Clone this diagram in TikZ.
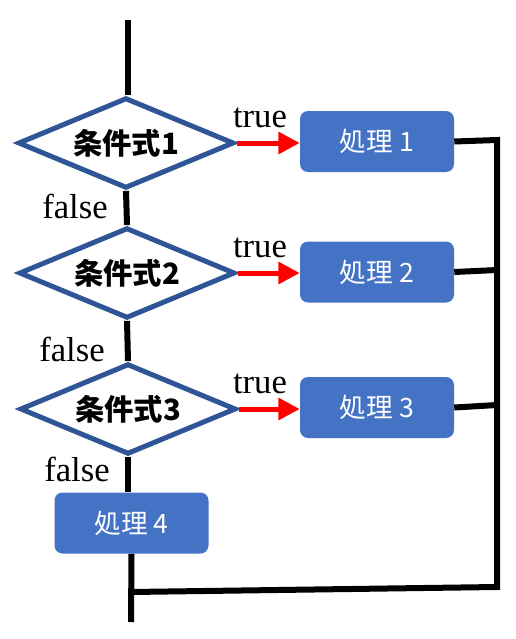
\documentclass[tikz,border=0pt]{standalone}
\usepackage{fontspec}
\setmainfont{Liberation Serif}
\newfontfamily\cjk{Noto Sans CJK JP}
\usetikzlibrary{shapes.geometric,arrows.meta}
\definecolor{dborder}{HTML}{2F5597}
\definecolor{boxblue}{HTML}{4472C4}
\tikzset{
  cond/.style={diamond, aspect=2.4, draw=dborder, line width=3.75pt, fill=white, inner sep=0pt,
    minimum width=162pt, minimum height=68pt, font=\cjk\bfseries\fontsize{22}{24}\selectfont},
  proc/.style={rectangle, rounded corners=6pt, fill=boxblue, text=white, inner sep=0pt,
    minimum width=115.5pt, minimum height=45.75pt, font=\cjk\fontsize{20}{22}\selectfont},
  flow/.style={line width=4.5pt, black},
  yes/.style={line width=3.75pt, red, -{Triangle[length=16pt,width=16pt]}},
  lbl/.style={font=\fontsize{26}{28}\selectfont, anchor=base, inner sep=0pt}
}
\begin{document}
\begin{tikzpicture}[x=0.75pt,y=-0.75pt]
\useasboundingbox (0,0) rectangle (516,639);
\node[cond] (d1) at (126,143) {条件式1};
\node[cond] (d2) at (127,273) {条件式2};
\node[cond] (d3) at (128,409) {条件式3};
\node[proc] (b1) at (377,141.5) {処理 1};
\node[proc] (b2) at (377,272) {処理 2};
\node[proc] (b3) at (377,407.5) {処理 3};
\node[proc] (b4) at (131.5,523) {処理 4};
\coordinate (top) at (128,20);
\coordinate (bot) at (131,622);
\coordinate (r1) at (497,140);
\coordinate (r2) at (497,270);
\coordinate (r3) at (497,405);
\coordinate (rb) at (497,587);
\coordinate (lb) at (131,592);
\node[lbl] (t1) at (260,127) {true};
\node[lbl] (t2) at (260,257) {true};
\node[lbl] (t3) at (260,393) {true};
\node[lbl] (f1) at (75,218) {false};
\node[lbl] (f2) at (72,361) {false};
\node[lbl] (f3) at (77,481) {false};
\draw[flow] (top) -- (top |- d1.north);
\draw[flow] (d1.south) -- (d2.north);
\draw[flow] (d2.south) -- (d3.north);
\draw[flow] (d3.south) -- (d3.south |- b4.north);
\draw[flow] (b4.south) -- (bot);
\draw[flow, line join=miter] (b1.east) -- (r1) -- (rb) -- (lb);
\draw[flow] (b2.east) -- (r2);
\draw[flow] (b3.east) -- (r3);
\draw[yes] (d1.east) -- (b1.west |- d1.east);
\draw[yes] (d2.east) -- (b2.west |- d2.east);
\draw[yes] (d3.east) -- (b3.west |- d3.east);
\end{tikzpicture}
\end{document}
